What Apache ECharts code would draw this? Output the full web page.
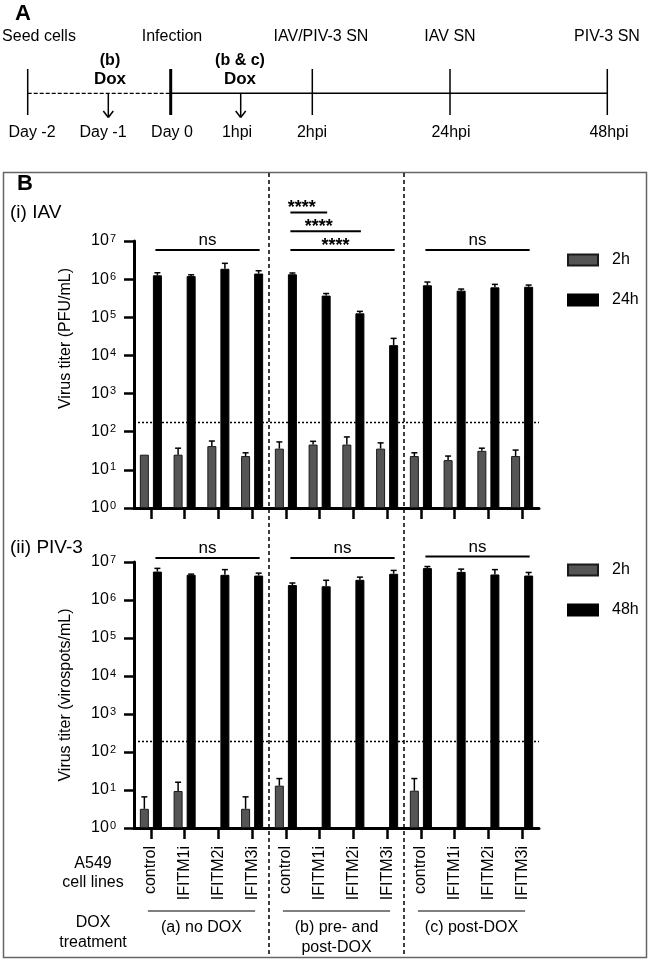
<!DOCTYPE html>
<html><head><meta charset="utf-8">
<script src="https://cdn.jsdelivr.net/npm/echarts@6/dist/echarts.min.js"></script>
<style>html,body{margin:0;padding:0;background:#fff}#c{width:650px;height:960px}</style>
</head><body><div id="c"></div><script>
// ---------- data ----------
const categories = ['control','IFITM1i','IFITM2i','IFITM3i','control','IFITM1i','IFITM2i','IFITM3i','control','IFITM1i','IFITM2i','IFITM3i'];
const groupLabels = ['(a) no DOX', '(b) pre- and\npost-DOX', '(c) post-DOX'];
const groupFirst = [0, 4, 8];
const groupLast = [3, 7, 11];
const yTickValues = [1, 10, 100, 1000, 10000, 100000, 1000000, 10000000];

// (i) IAV
const iav2h    = [25, 25, 42, 23, 36, 46, 46, 36, 23, 18, 31.5, 23];
const iav2hErr = [null, 37, 57, 28, 54, 56, 73, 51, 28, 23, 37, 33];
const iav24h    = [1.26e6, 1.2e6, 1.87e6, 1.4e6, 1.34e6, 3.7e5, 1.27e5, 1.86e4, 6.9e5, 5.0e5, 6.1e5, 6.3e5];
const iav24hErr = [1.47e6, 1.3e6, 2.6e6, 1.66e6, 1.45e6, 4.2e5, 1.43e5, 2.8e4, 8.4e5, 5.5e5, 7.3e5, 7.0e5];
const iavLimit = 175;
const iavSigFrom = [0, 4, 4, 4, 8];
const iavSigTo   = [3, 5, 6, 7, 11];
const iavSigY    = [5.8e6, 5.6e7, 1.8e7, 5.8e6, 5.8e6];
const iavSigText = ['ns', '****', '****', '****', 'ns'];

// (ii) PIV-3
const piv2h    = [3.2, 9.4, null, 3.2, 13, null, null, null, 9.6, null, null, null];
const piv2hErr = [6.6, 16, null, 6.6, 20, null, null, null, 20, null, null, null];
const piv48h    = [5.6e6, 4.6e6, 4.6e6, 4.4e6, 2.47e6, 2.3e6, 3.4e6, 4.9e6, 6.9e6, 5.5e6, 4.7e6, 4.4e6];
const piv48hErr = [6.8e6, 4.8e6, 6.3e6, 5.1e6, 2.8e6, 3.3e6, 4.0e6, 6.0e6, 7.6e6, 6.5e6, 6.3e6, 5.3e6];
const pivLimit = 195;
const pivSigFrom = [0, 4, 8];
const pivSigTo   = [3, 7, 11];
const pivSigY    = [1.27e7, 1.27e7, 1.4e7];
const pivSigText = ['ns', 'ns', 'ns'];

// timeline (panel A)
const tlTop = ['Seed cells', 'Infection', 'IAV/PIV-3 SN', 'IAV SN', 'PIV-3 SN'];
const tlBottom = ['Day -2', 'Day -1', 'Day 0', '1hpi', '2hpi', '24hpi', '48hpi'];

// ---------- drawing ----------
const FF = '"Liberation Sans", Arial, sans-serif';
const BAR_W = 9, BAR_GAP = 0.45;
const OFF = BAR_W * (1 + BAR_GAP) / 2;
const GRAY = '#555555';
const font = (s, w) => (w || 'normal') + ' ' + s + 'px ' + FF;

function errSeries(vals, errs, dir, xi) {
  return {
    type: 'custom', xAxisIndex: xi, yAxisIndex: xi, z: 5, silent: true, clip: false,
    data: vals.map((v, i) => (v != null && errs[i] != null) ? [i, v, errs[i]] : [i, null, null]),
    renderItem(params, api) {
      const v = api.value(1), e = api.value(2);
      if (v == null || e == null || isNaN(v) || isNaN(e) || !(v > 0)) return null;
      const p0 = api.coord([api.value(0), v]);
      const p1 = api.coord([api.value(0), e]);
      const x = p0[0] + dir * OFF;
      return { type: 'group', children: [
        { type: 'line', shape: { x1: x, y1: p0[1], x2: x, y2: p1[1] }, style: { stroke: '#000', lineWidth: 1.5 } },
        { type: 'line', shape: { x1: x - 3, y1: p1[1], x2: x + 3, y2: p1[1] }, style: { stroke: '#000', lineWidth: 1.5 } }
      ]};
    }
  };
}

function sigSeries(from, to, ys, texts, xi) {
  return {
    type: 'custom', xAxisIndex: xi, yAxisIndex: xi, z: 6, silent: true, clip: false,
    data: from.map((f, i) => [f, ys[i]]),
    renderItem(params, api) {
      const i = params.dataIndex;
      const p0 = api.coord([from[i], ys[i]]);
      const p1 = api.coord([to[i], ys[i]]);
      const x0 = p0[0] + OFF - 2, x1 = p1[0] + OFF + 1, y = p0[1];
      const star = texts[i] !== 'ns';
      return { type: 'group', children: [
        { type: 'line', shape: { x1: x0, y1: y, x2: x1, y2: y }, style: { stroke: '#000', lineWidth: 2 } },
        { type: 'text', x: (x0 + x1) / 2 - (star ? 7 : 0), y: star ? y + 5 : y - 1,
          style: { text: texts[i], fill: '#000', font: star ? font(18, 'bold') : font(17),
                   textAlign: 'center', textVerticalAlign: 'bottom', align: 'center', verticalAlign: 'bottom' } }
      ]};
    }
  };
}

function barSeries(name, data, color, xi, limit) {
  const s = {
    type: 'bar', name, xAxisIndex: xi, yAxisIndex: xi, data: data.map(v => v == null ? '-' : v),
    barWidth: BAR_W, barGap: (BAR_GAP * 100) + '%',
    itemStyle: { color, borderColor: color === '#000' ? '#000' : '#1a1a1a', borderWidth: 1 },
    silent: true, animation: false
  };
  if (limit) {
    s.markLine = { silent: true, symbol: 'none', label: { show: false },
      lineStyle: { type: [2, 2], color: '#000', width: 1.3 }, data: [{ yAxis: limit }] };
  }
  return s;
}

const dividerSeries = {
  type: 'custom', xAxisIndex: 0, yAxisIndex: 0, silent: true, clip: false, z: 1,
  data: groupLast.slice(0, 2).map(i => [i, 1]),
  renderItem(params, api) {
    const i = api.value(0);
    const a = api.coord([i, 1]), b = api.coord([i + 1, 1]);
    const x = (a[0] + b[0]) / 2;
    return { type: 'line', shape: { x1: x, y1: 173, x2: x, y2: 957 },
      style: { stroke: '#000', lineWidth: 1.5, lineDash: [4, 3] } };
  }
};

const groupSeries = {
  type: 'custom', xAxisIndex: 1, yAxisIndex: 1, silent: true, clip: false, z: 1,
  data: groupFirst.map(i => [i, 1]),
  renderItem(params, api) {
    const g = params.dataIndex;
    const a = api.coord([groupFirst[g], 1]), b = api.coord([groupLast[g], 1]);
    return { type: 'group', children: [
      { type: 'line', shape: { x1: a[0] - 3, y1: 911, x2: b[0] + 3, y2: 911 }, style: { stroke: '#000', lineWidth: 1.2 } },
      { type: 'text', x: (a[0] + b[0]) / 2, y: 918,
        style: { text: groupLabels[g], fill: '#000', font: font(16), lineHeight: 20,
                 textAlign: 'center', textVerticalAlign: 'top', align: 'center', verticalAlign: 'top' } }
    ]};
  }
};

function yAxis(gi, name, shift) {
  return {
    type: 'log', gridIndex: gi, logBase: 10, min: 1, max: 1e7, interval: 1, splitNumber: 7,
    axisLine: { show: true, lineStyle: { color: '#000', width: 3 } },
    axisTick: { show: true, length: 10, lineStyle: { color: '#000', width: 2.5 } },
    splitLine: { show: false },
    axisLabel: { color: '#000', fontSize: 16, fontFamily: FF, margin: 18,
      formatter: v => '10{s|' + Math.round(Math.log10(v)) + '}',
      rich: { s: { fontSize: 11, fontFamily: FF, color: '#000', verticalAlign: 'top', padding: [0, 0, 0, 1] } } },
    name, nameLocation: 'middle', nameGap: 60,
    nameTextStyle: { color: '#000', fontSize: 16, fontFamily: FF, padding: shift ? [0, 0, 0, shift] : 0 }
  };
}
function xAxis(gi, showLabels) {
  return {
    type: 'category', gridIndex: gi, data: categories,
    axisLine: { show: true, lineStyle: { color: '#000', width: 3 } },
    axisTick: { show: true, alignWithLabel: true, interval: 0, length: 11, lineStyle: { color: '#000', width: 2.5 } },
    axisLabel: { show: showLabels, interval: 0, rotate: 90, margin: 18, color: '#000', fontSize: 16, fontFamily: FF }
  };
}

// graphic (timeline + panel texts)
const G = [];
const T = (x, y, text, s, w, a, va, lh) => G.push({ type: 'text', x, y, silent: true,
  style: { text, fill: '#000', font: font(s || 16, w), textAlign: a || 'center', textVerticalAlign: va || 'middle', align: a || 'center', verticalAlign: va || 'middle', lineHeight: lh || 20 } });
const L = (x1, y1, x2, y2, w, dash) => G.push({ type: 'line', silent: true, shape: { x1, y1, x2, y2 },
  style: { stroke: '#000', lineWidth: w || 1.5, lineDash: dash || null } });

T(15, 14, 'A', 22, 'bold', 'left');
const topX = [39, 172, 321, 450, 607];
tlTop.forEach((t, i) => T(topX[i], 37, t, 16));
const tickX = [27.7, 170.7, 312.3, 450, 607.3];
tickX.forEach((x, i) => L(x, 69, x, 115, i === 1 ? 3 : 1.5));
L(27.7, 93.3, 170.7, 93.3, 1.2, [4, 2]);
L(170.7, 93.3, 607.3, 93.3, 1.6);
[108.3, 240.7].forEach(x => { L(x, 93.3, x, 117, 1.5); L(x - 5, 111, x, 117.5, 1.5); L(x + 5, 111, x, 117.5, 1.5); });
T(110, 61, '(b)', 16, 'bold'); T(110, 79, 'Dox', 17, 'bold');
T(240, 61, '(b & c)', 16, 'bold'); T(240, 79, 'Dox', 17, 'bold');
const botX = [32, 103, 172, 237, 312, 451, 609];
tlBottom.forEach((t, i) => T(botX[i], 133, t, 16));

G.push({ type: 'rect', silent: true, shape: { x: 3.5, y: 172.5, width: 643, height: 785 },
  style: { fill: 'none', stroke: '#666', lineWidth: 1.5 }, z: -1 });
T(17, 184, 'B', 22, 'bold', 'left');
T(10, 213, '(i) IAV', 19, 'normal', 'left');
T(10, 548, '(ii) PIV-3', 19, 'normal', 'left');
T(93, 854, 'A549\ncell lines', 16, 'normal', 'center', 'top', 19);
T(93, 913, 'DOX\ntreatment', 16, 'normal', 'center', 'top');

const legendBase = {
  orient: 'vertical', left: 567, itemWidth: 30, itemHeight: 11, itemGap: 24, padding: 0,
  icon: 'rect', selectedMode: false,
  textStyle: { color: '#000', fontSize: 16, fontFamily: FF, padding: [0, 0, 0, 9] }
};

const option = {
  animation: false,
  backgroundColor: '#fff',
  textStyle: { fontFamily: FF },
  grid: [
    { left: 134, width: 405, top: 241, height: 267 },
    { left: 134, width: 405, top: 562, height: 266 }
  ],
  xAxis: [xAxis(0, false), xAxis(1, true)],
  yAxis: [yAxis(0, 'Virus titer (PFU/mL)', 72), yAxis(1, 'Virus titer (virospots/mL)', 0)],
  legend: [
    Object.assign({}, legendBase, { top: 252, data: ['2h', '24h'] }),
    Object.assign({}, legendBase, { top: 562, data: ['2h', '48h'] })
  ],
  graphic: G,
  series: [
    barSeries('2h', iav2h, GRAY, 0, iavLimit),
    barSeries('24h', iav24h, '#000', 0),
    errSeries(iav2h, iav2hErr, -1, 0),
    errSeries(iav24h, iav24hErr, 1, 0),
    sigSeries(iavSigFrom, iavSigTo, iavSigY, iavSigText, 0),
    barSeries('2h', piv2h, GRAY, 1, pivLimit),
    barSeries('48h', piv48h, '#000', 1),
    errSeries(piv2h, piv2hErr, -1, 1),
    errSeries(piv48h, piv48hErr, 1, 1),
    sigSeries(pivSigFrom, pivSigTo, pivSigY, pivSigText, 1),
    dividerSeries,
    groupSeries
  ]
};
const chart = echarts.init(document.getElementById('c'), null, { renderer: 'canvas' });
chart.setOption(option);
</script></body></html>
